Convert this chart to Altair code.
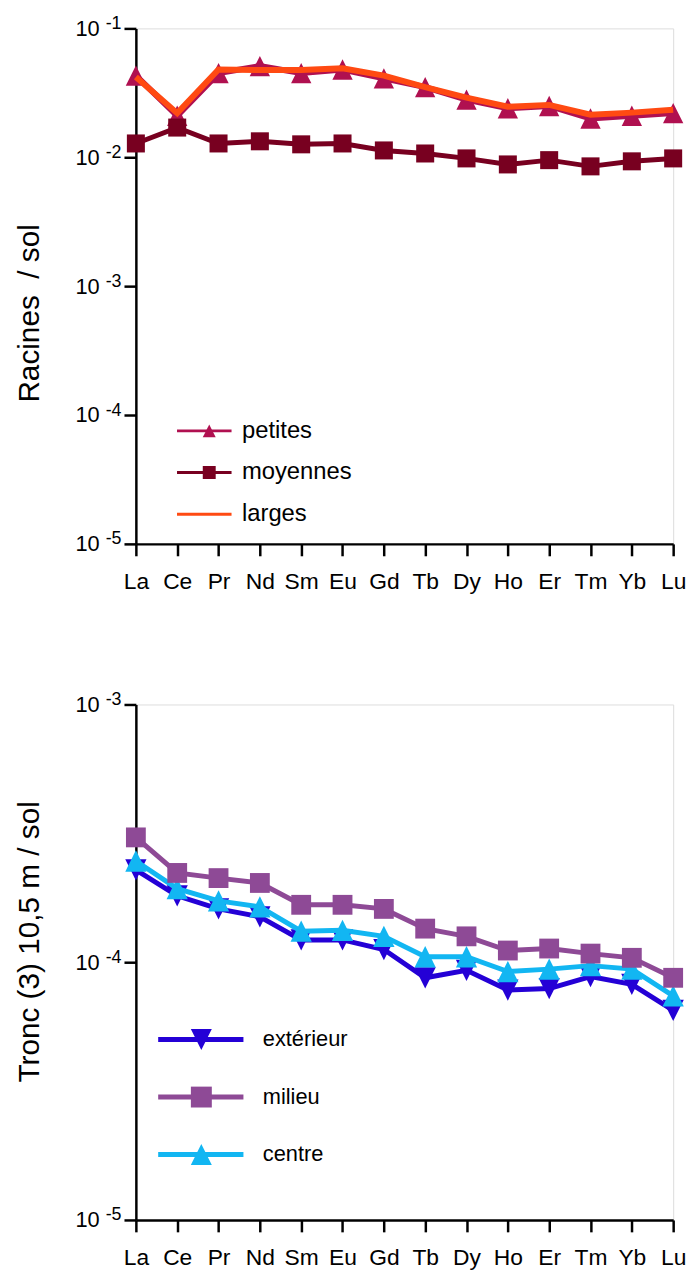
import altair as alt
import pandas as pd

FONT = "Liberation Sans"

elements = ["La", "Ce", "Pr", "Nd", "Sm", "Eu", "Gd", "Tb", "Dy", "Ho", "Er", "Tm", "Yb", "Lu"]

# Racines / sol
racines_petites = [0.043, 0.021, 0.045, 0.051, 0.045, 0.048, 0.041, 0.035, 0.028, 0.024, 0.025, 0.020, 0.021, 0.022]
racines_moyennes = [0.0128, 0.0170, 0.0128, 0.0133, 0.0126, 0.0128, 0.0113, 0.0107, 0.0098, 0.0088, 0.0095, 0.0085, 0.0093, 0.0098]
racines_larges = [0.042, 0.022, 0.048, 0.0475, 0.0475, 0.049, 0.043, 0.035, 0.029, 0.0247, 0.0255, 0.0214, 0.0222, 0.0234]

# Tronc (3) 10,5 m / sol
tronc_exterieur = [2.28e-4, 1.81e-4, 1.61e-4, 1.50e-4, 1.22e-4, 1.22e-4, 1.12e-4, 8.7e-5, 9.3e-5, 7.8e-5, 7.9e-5, 8.8e-5, 8.2e-5, 6.5e-5]
tronc_milieu = [3.05e-4, 2.22e-4, 2.12e-4, 2.03e-4, 1.67e-4, 1.67e-4, 1.61e-4, 1.35e-4, 1.26e-4, 1.11e-4, 1.13e-4, 1.08e-4, 1.04e-4, 8.7e-5]
tronc_centre = [2.47e-4, 1.93e-4, 1.73e-4, 1.64e-4, 1.32e-4, 1.33e-4, 1.26e-4, 1.05e-4, 1.05e-4, 9.2e-5, 9.4e-5, 9.7e-5, 9.4e-5, 7.4e-5]

top_series = ["petites", "moyennes", "larges"]
top_colors = ["#B01050", "#780020", "#FF4A12"]
bot_series = ["extérieur", "milieu", "centre"]
bot_colors = ["#2400D6", "#8E4A96", "#12B6F2"]

TRI_UP = "M0,-1L1,1L-1,1Z"
TRI_DOWN = "M0,1L1,-1L-1,-1Z"


def long_df(names, arrays):
    rows = []
    for name, arr in zip(names, arrays):
        for el, v in zip(elements, arr):
            rows.append({"element": el, "value": v, "series": name, "sm": name + " "})
    return pd.DataFrame(rows)


top_df = long_df(top_series, [racines_petites, racines_moyennes, racines_larges])
bot_df = long_df(bot_series, [tronc_exterieur, tronc_milieu, tronc_centre])


def xenc():
    return alt.X(
        "element:N",
        sort=elements,
        scale=alt.Scale(type="point", domain=elements, padding=0),
        axis=alt.Axis(
            title=None, labelAngle=0, labelFontSize=23, labelFont=FONT, labelColor="black",
            tickSize=12, tickWidth=2.5, tickColor="black", domainColor="black", domainWidth=2.5,
            labelPadding=15, grid=False,
        ),
    )


def panel(df, series, colors, shapes, widths, msizes, draw_order, ydom, yticks, title,
          title_y, leg1, leg2):
    yscale = alt.Scale(type="log", domain=ydom, nice=False)
    axisA = alt.Axis(
        orient="left", values=yticks, labelExpr="'10'", labelFontSize=22, labelFont=FONT,
        labelColor="black", tickSize=12, tickWidth=2.5, tickColor="black", domainColor="black",
        domainWidth=2.5, labelPadding=25, grid=False, title=title, titleFontSize=30,
        titleFont=FONT, titleFontWeight="normal", titleColor="black", titleX=-92, titleY=title_y,
    )
    axisB = alt.Axis(
        orient="left", values=yticks, labelExpr="'-' + round(-log(datum.value)/LN10)",
        labelFontSize=18, labelFont=FONT, labelColor="black", tickSize=12,
        tickColor="transparent", domain=False, labelPadding=3, labelBaseline="alphabetic",
        grid=False, title=None,
    )
    stroke_scale = alt.Scale(domain=series, range=colors)
    fill_scale = alt.Scale(domain=[s + " " for s in series],
                           range=[c if shp else "transparent" for c, shp in zip(colors, shapes)])
    shape_scale = alt.Scale(domain=[s + " " for s in series],
                            range=[shp if shp else "circle" for shp in shapes])
    layers = []
    first = True
    for idx in draw_order:
        s, shp, w, ms = series[idx], shapes[idx], widths[idx], msizes[idx]
        sub = df[df["series"] == s]
        line = alt.Chart(sub).mark_line(strokeWidth=w).encode(
            x=xenc(),
            y=alt.Y("value:Q", scale=yscale, axis=axisA if first else None),
            stroke=alt.Stroke("series:N", scale=stroke_scale, legend=leg1),
        )
        layers.append(line)
        if shp:
            pts = alt.Chart(sub).mark_point(filled=True, opacity=1, strokeWidth=0).encode(
                x=xenc(),
                y=alt.Y("value:Q", scale=yscale, axis=axisB if first else None),
                fill=alt.Fill("sm:N", scale=fill_scale, legend=leg2),
                shape=alt.Shape("sm:N", scale=shape_scale, legend=leg2),
                size=alt.value(ms),
            )
            layers.append(pts)
        first = False
    return alt.layer(*layers).resolve_axis(y="independent").resolve_scale(y="shared").properties(
        width=542, height=520
    )


top_leg1 = alt.Legend(
    orient="none", legendX=40, legendY=394, title=None, symbolType="stroke", symbolSize=3025,
    symbolStrokeWidth=3, labelFontSize=24, labelFont=FONT, labelColor="black", labelOffset=9,
    rowPadding=18, padding=0, clipHeight=24,
)
top_leg2 = alt.Legend(
    orient="none", legendX=62, legendY=394, title=None, symbolSize=170, symbolStrokeWidth=0,
    symbolOpacity=1, labelFontSize=24, labelFont=FONT, labelColor="transparent", labelOffset=9,
    labelExpr="' '", rowPadding=18, padding=0, clipHeight=24,
)
bot_leg1 = alt.Legend(
    orient="none", legendX=20, legendY=327, title=None, symbolType="stroke", symbolSize=7396,
    symbolStrokeWidth=5, labelFontSize=22, labelFont=FONT, labelColor="black", labelOffset=17,
    rowPadding=36, padding=0, clipHeight=22,
)
bot_leg2 = alt.Legend(
    orient="none", legendX=55, legendY=327, title=None, symbolSize=450, symbolStrokeWidth=0,
    symbolOpacity=1, labelFontSize=22, labelFont=FONT, labelColor="transparent", labelOffset=17,
    labelExpr="' '", rowPadding=36, padding=0, clipHeight=22,
)

top = panel(
    top_df, top_series, top_colors,
    [TRI_UP, "square", None], [6, 5, 6], [420, 330, 0], [0, 2, 1],
    [1e-5, 1e-1], [1e-5, 1e-4, 1e-3, 1e-2, 1e-1], "Racines\u00a0 / sol", 287,
    top_leg1, top_leg2,
)
bottom = panel(
    bot_df, bot_series, bot_colors,
    [TRI_DOWN, "square", TRI_UP], [5, 5, 5], [460, 400, 460], [0, 2, 1],
    [1e-5, 1e-3], [1e-5, 1e-4, 1e-3], "Tronc (3) 10,5 m / sol", 239,
    bot_leg1, bot_leg2,
)

chart = alt.vconcat(top, bottom, spacing=162, bounds="flush").resolve_scale(
    stroke="independent", fill="independent", shape="independent"
).resolve_legend(
    stroke="independent", fill="independent", shape="independent"
).properties(
    padding={"left": 6, "top": 0, "right": 5, "bottom": 5}
).configure_view(stroke="black", strokeWidth=2.5).configure(font=FONT)

chart.save("out.html", embed_options={"renderer": "svg", "actions": False})
